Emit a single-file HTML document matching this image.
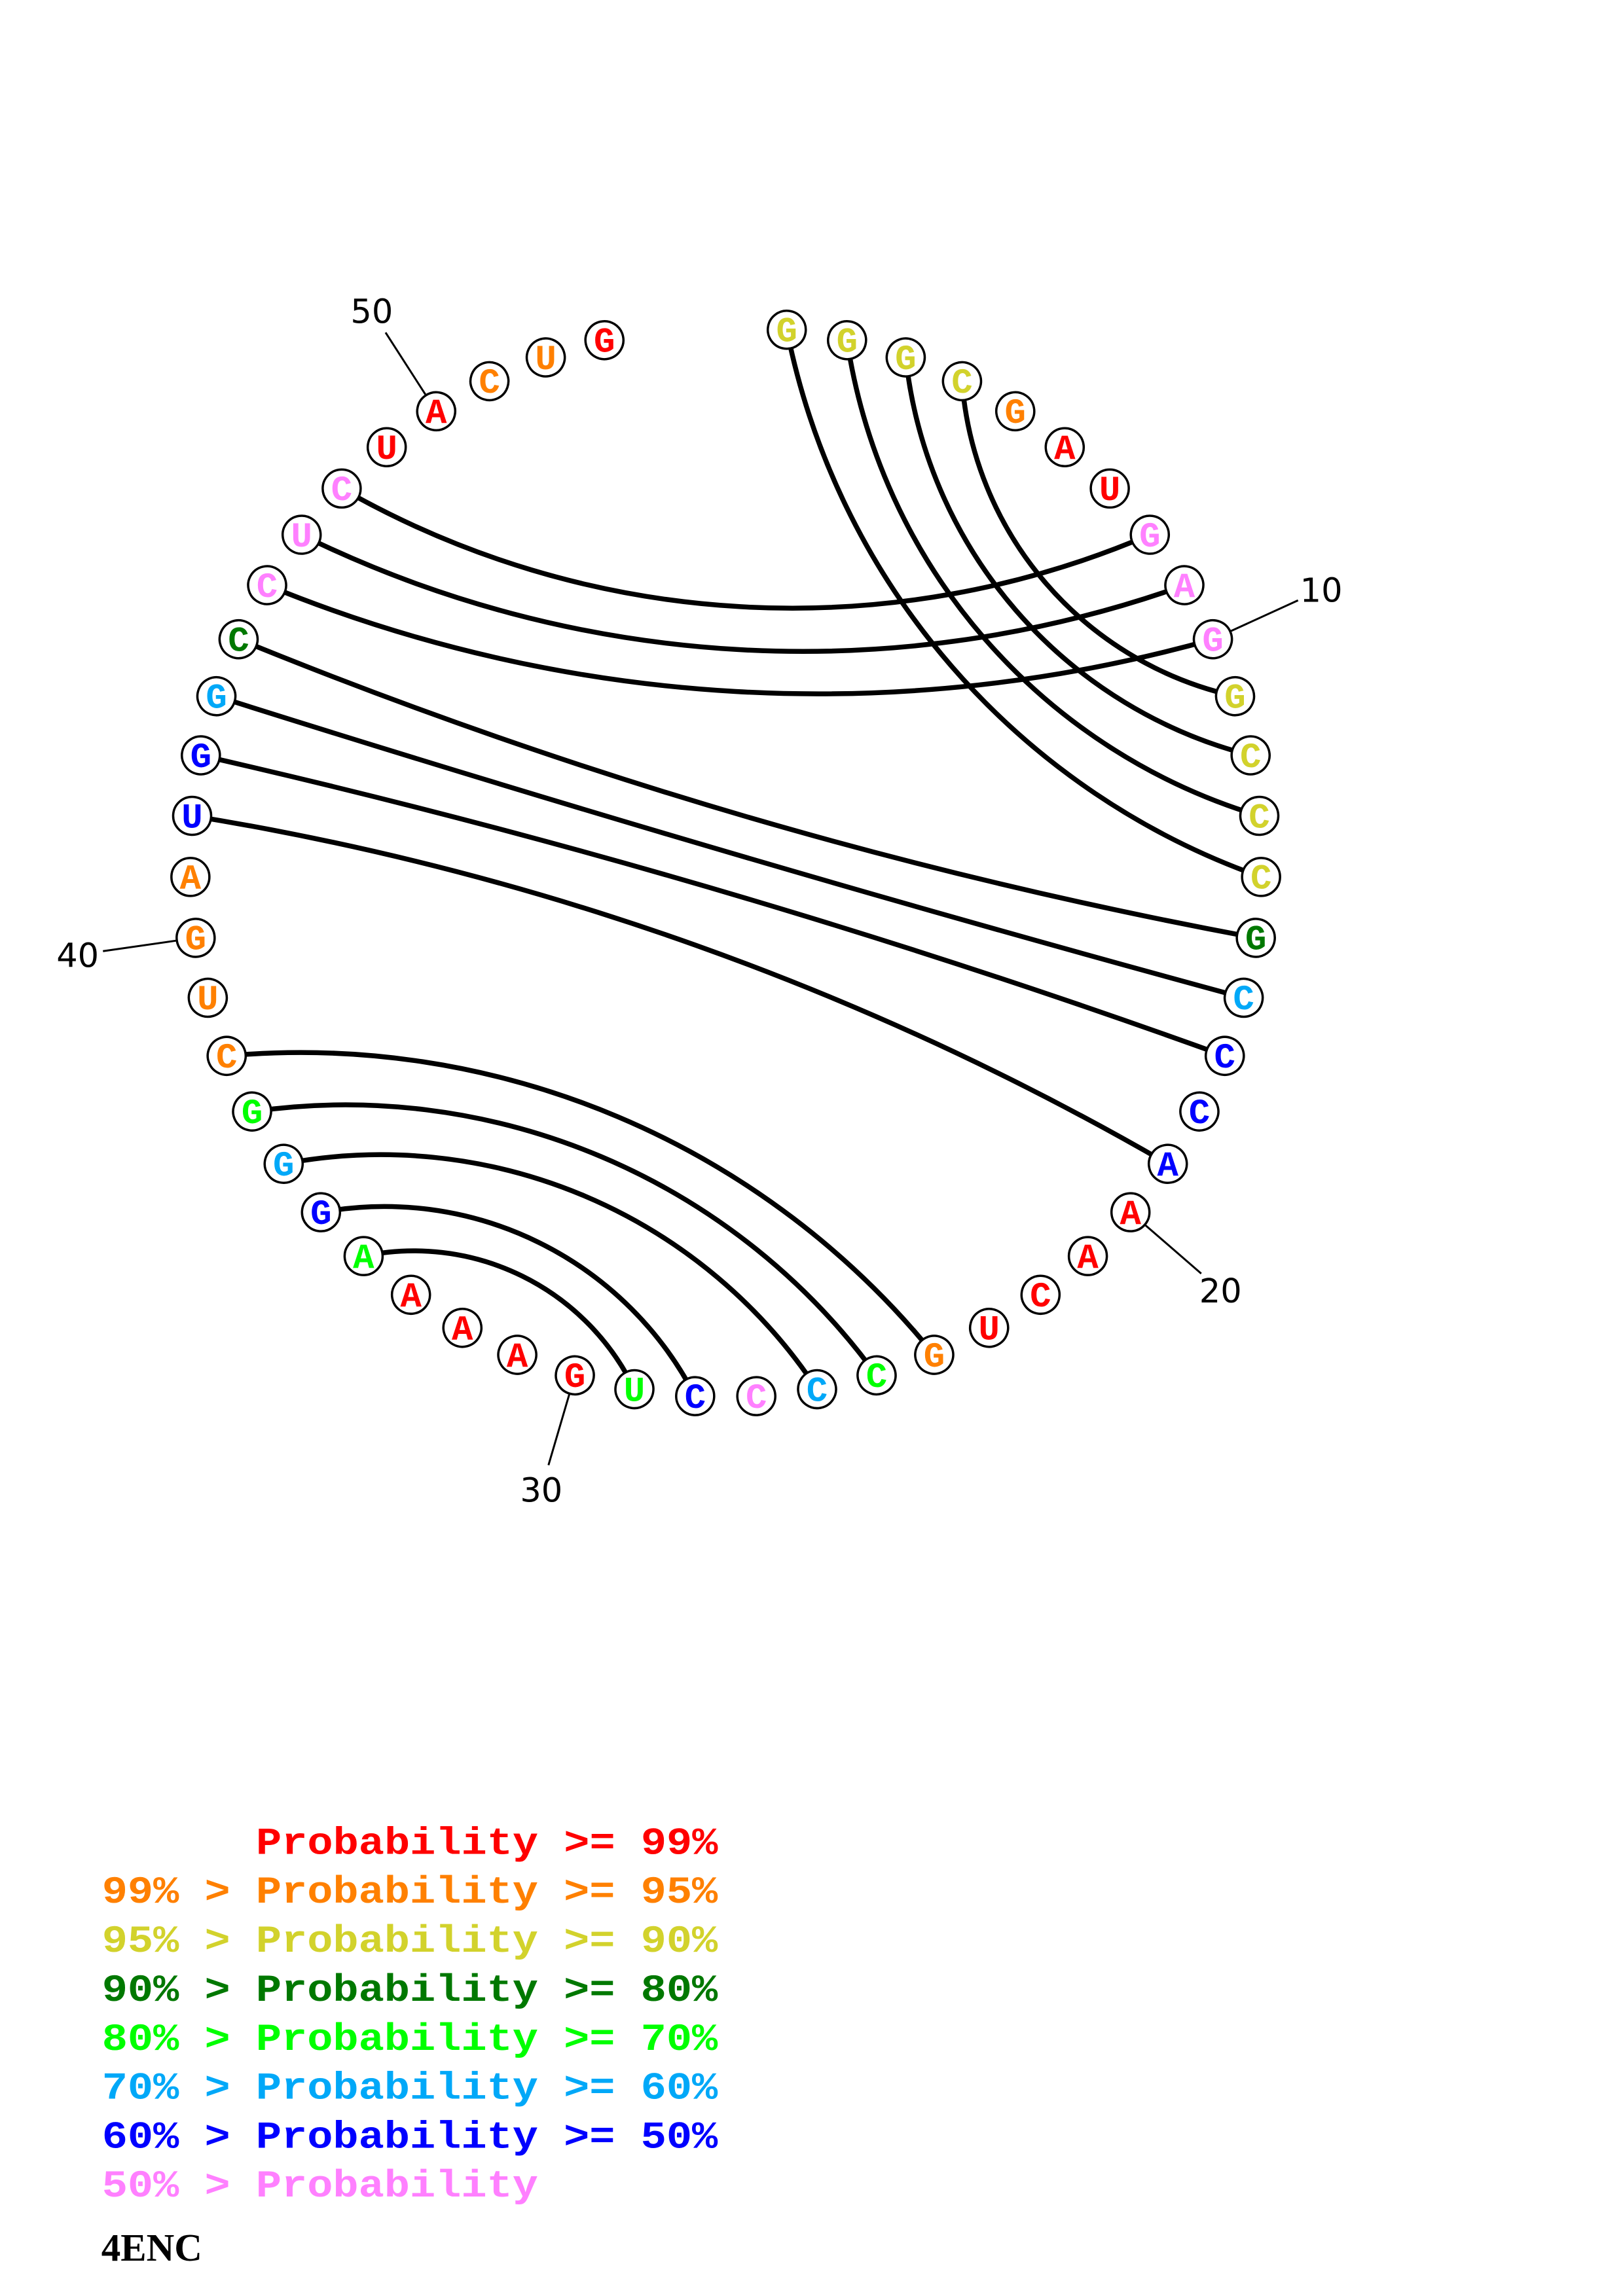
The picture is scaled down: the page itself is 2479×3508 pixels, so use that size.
<!DOCTYPE html>
<html>
<head>
<meta charset="utf-8">
<style>
html,body{margin:0;padding:0;background:#fff;}
svg{display:block;}
.arcs path{fill:none;stroke:#000;stroke-width:7.5;}
.tick line{stroke:#000;stroke-width:3;}
.nd circle{fill:#fff;stroke:#000;stroke-width:3.5;}
.nd text{font-family:"Liberation Mono","DejaVu Sans Mono",monospace;font-weight:bold;font-size:54px;text-anchor:middle;}
.lab{font-family:"DejaVu Sans","Liberation Sans",sans-serif;font-size:51px;text-anchor:middle;fill:#000;}
.leg{font-family:"Liberation Mono","DejaVu Sans Mono",monospace;font-weight:bold;font-size:65.33px;white-space:pre;}
.r{fill:#ff0000}.o{fill:#ff8000}.y{fill:#d2d22c}.d{fill:#007800}.g{fill:#00ff00}.l{fill:#00a8f8}.b{fill:#0000ff}.p{fill:#ff80ff}
</style>
</head>
<body>
<svg width="2479" height="3508" viewBox="0 0 2479 3508" xmlns="http://www.w3.org/2000/svg">
<rect x="0" y="0" width="2479" height="3508" fill="#fff"/>

<g class="arcs">
<path transform="rotate(49.0909 1108.5 1316.5)" d="M555.5,713.8 A1117,1117 0 0 0 1661.5,713.8"/>
<path transform="rotate(49.0909 1108.5 1316.5)" d="M627.7,654.7 A896.7,896.7 0 0 0 1589.3,654.7"/>
<path transform="rotate(49.0909 1108.5 1316.5)" d="M706.3,604.2 A705.4,705.4 0 0 0 1510.7,604.2"/>
<path transform="rotate(49.0909 1108.5 1316.5)" d="M790.1,563.0 A533.6,533.6 0 0 0 1426.9,563.0"/>
<path transform="rotate(3.2727 1108.5 1316.5)" d="M490.3,780.8 A1386.1,1386.1 0 0 0 1726.7,780.8"/>
<path transform="rotate(3.2727 1108.5 1316.5)" d="M433.1,855.0 A1734.5,1734.5 0 0 0 1783.9,855.0"/>
<path transform="rotate(3.2727 1108.5 1316.5)" d="M385.0,934.8 A2218.4,2218.4 0 0 0 1832.0,934.8"/>
<path transform="rotate(16.3636 1108.5 1316.5)" d="M298.8,1200.1 A7938.7,7938.7 0 0 0 1918.2,1200.1"/>
<path transform="rotate(16.3636 1108.5 1316.5)" d="M290.8,1293.15 A39851,39851 0 0 0 1926.2,1293.15"/>
<path transform="rotate(196.3636 1108.5 1316.5)" d="M293.5,1246.5 A13244,13244 0 0 0 1923.5,1246.5"/>
<path transform="rotate(199.6364 1108.5 1316.5)" d="M317.4,1108.5 A4364.2,4364.2 0 0 0 1899.6,1108.5"/>
<path transform="rotate(202.9091 1108.5 1316.5)" d="M521.9,746.4 A1244.6,1244.6 0 0 0 1695.1,746.4"/>
<path transform="rotate(202.9091 1108.5 1316.5)" d="M590.7,683.2 A1002.4,1002.4 0 0 0 1626.3,683.2"/>
<path transform="rotate(202.9091 1108.5 1316.5)" d="M666.3,628.4 A798.1,798.1 0 0 0 1550.7,628.4"/>
<path transform="rotate(206.1818 1108.5 1316.5)" d="M790.1,563.0 A533.6,533.6 0 0 0 1426.9,563.0"/>
<path transform="rotate(206.1818 1108.5 1316.5)" d="M878.0,531.6 A373.9,373.9 0 0 0 1339.0,531.6"/>
</g>

<g class="tick">
<g transform="rotate(65.4545 1108.5 1316.5)"><line x1="1108.5" y1="468.5" x2="1108.5" y2="355.5"/><text class="lab" x="1108.5" y="335" transform="rotate(-65.4545 1108.5 316.5)">10</text></g>
<g transform="rotate(130.9091 1108.5 1316.5)"><line x1="1108.5" y1="468.5" x2="1108.5" y2="355.5"/><text class="lab" x="1108.5" y="335" transform="rotate(-130.9091 1108.5 316.5)">20</text></g>
<g transform="rotate(196.3636 1108.5 1316.5)"><line x1="1108.5" y1="468.5" x2="1108.5" y2="355.5"/><text class="lab" x="1108.5" y="335" transform="rotate(-196.3636 1108.5 316.5)">30</text></g>
<g transform="rotate(261.8182 1108.5 1316.5)"><line x1="1108.5" y1="468.5" x2="1108.5" y2="355.5"/><text class="lab" x="1108.5" y="335" transform="rotate(-261.8182 1108.5 316.5)">40</text></g>
<g transform="rotate(327.2727 1108.5 1316.5)"><line x1="1108.5" y1="468.5" x2="1108.5" y2="355.5"/><text class="lab" x="1108.5" y="335" transform="rotate(-327.2727 1108.5 316.5)">50</text></g>
</g>

<g class="nd">
<g transform="rotate(6.5455 1108.5 1316.5)"><circle cx="1108.5" cy="498.5" r="29"/><text class="y" x="1108.5" y="516.3" transform="rotate(-6.5455 1108.5 498.5)">G</text></g>
<g transform="rotate(13.0909 1108.5 1316.5)"><circle cx="1108.5" cy="498.5" r="29"/><text class="y" x="1108.5" y="516.3" transform="rotate(-13.0909 1108.5 498.5)">G</text></g>
<g transform="rotate(19.6364 1108.5 1316.5)"><circle cx="1108.5" cy="498.5" r="29"/><text class="y" x="1108.5" y="516.3" transform="rotate(-19.6364 1108.5 498.5)">G</text></g>
<g transform="rotate(26.1818 1108.5 1316.5)"><circle cx="1108.5" cy="498.5" r="29"/><text class="y" x="1108.5" y="516.3" transform="rotate(-26.1818 1108.5 498.5)">C</text></g>
<g transform="rotate(32.7273 1108.5 1316.5)"><circle cx="1108.5" cy="498.5" r="29"/><text class="o" x="1108.5" y="516.3" transform="rotate(-32.7273 1108.5 498.5)">G</text></g>
<g transform="rotate(39.2727 1108.5 1316.5)"><circle cx="1108.5" cy="498.5" r="29"/><text class="r" x="1108.5" y="516.3" transform="rotate(-39.2727 1108.5 498.5)">A</text></g>
<g transform="rotate(45.8182 1108.5 1316.5)"><circle cx="1108.5" cy="498.5" r="29"/><text class="r" x="1108.5" y="516.3" transform="rotate(-45.8182 1108.5 498.5)">U</text></g>
<g transform="rotate(52.3636 1108.5 1316.5)"><circle cx="1108.5" cy="498.5" r="29"/><text class="p" x="1108.5" y="516.3" transform="rotate(-52.3636 1108.5 498.5)">G</text></g>
<g transform="rotate(58.9091 1108.5 1316.5)"><circle cx="1108.5" cy="498.5" r="29"/><text class="p" x="1108.5" y="516.3" transform="rotate(-58.9091 1108.5 498.5)">A</text></g>
<g transform="rotate(65.4545 1108.5 1316.5)"><circle cx="1108.5" cy="498.5" r="29"/><text class="p" x="1108.5" y="516.3" transform="rotate(-65.4545 1108.5 498.5)">G</text></g>
<g transform="rotate(72 1108.5 1316.5)"><circle cx="1108.5" cy="498.5" r="29"/><text class="y" x="1108.5" y="516.3" transform="rotate(-72 1108.5 498.5)">G</text></g>
<g transform="rotate(78.5455 1108.5 1316.5)"><circle cx="1108.5" cy="498.5" r="29"/><text class="y" x="1108.5" y="516.3" transform="rotate(-78.5455 1108.5 498.5)">C</text></g>
<g transform="rotate(85.0909 1108.5 1316.5)"><circle cx="1108.5" cy="498.5" r="29"/><text class="y" x="1108.5" y="516.3" transform="rotate(-85.0909 1108.5 498.5)">C</text></g>
<g transform="rotate(91.6364 1108.5 1316.5)"><circle cx="1108.5" cy="498.5" r="29"/><text class="y" x="1108.5" y="516.3" transform="rotate(-91.6364 1108.5 498.5)">C</text></g>
<g transform="rotate(98.1818 1108.5 1316.5)"><circle cx="1108.5" cy="498.5" r="29"/><text class="d" x="1108.5" y="516.3" transform="rotate(-98.1818 1108.5 498.5)">G</text></g>
<g transform="rotate(104.7273 1108.5 1316.5)"><circle cx="1108.5" cy="498.5" r="29"/><text class="l" x="1108.5" y="516.3" transform="rotate(-104.7273 1108.5 498.5)">C</text></g>
<g transform="rotate(111.2727 1108.5 1316.5)"><circle cx="1108.5" cy="498.5" r="29"/><text class="b" x="1108.5" y="516.3" transform="rotate(-111.2727 1108.5 498.5)">C</text></g>
<g transform="rotate(117.8182 1108.5 1316.5)"><circle cx="1108.5" cy="498.5" r="29"/><text class="b" x="1108.5" y="516.3" transform="rotate(-117.8182 1108.5 498.5)">C</text></g>
<g transform="rotate(124.3636 1108.5 1316.5)"><circle cx="1108.5" cy="498.5" r="29"/><text class="b" x="1108.5" y="516.3" transform="rotate(-124.3636 1108.5 498.5)">A</text></g>
<g transform="rotate(130.9091 1108.5 1316.5)"><circle cx="1108.5" cy="498.5" r="29"/><text class="r" x="1108.5" y="516.3" transform="rotate(-130.9091 1108.5 498.5)">A</text></g>
<g transform="rotate(137.4545 1108.5 1316.5)"><circle cx="1108.5" cy="498.5" r="29"/><text class="r" x="1108.5" y="516.3" transform="rotate(-137.4545 1108.5 498.5)">A</text></g>
<g transform="rotate(144 1108.5 1316.5)"><circle cx="1108.5" cy="498.5" r="29"/><text class="r" x="1108.5" y="516.3" transform="rotate(-144 1108.5 498.5)">C</text></g>
<g transform="rotate(150.5455 1108.5 1316.5)"><circle cx="1108.5" cy="498.5" r="29"/><text class="r" x="1108.5" y="516.3" transform="rotate(-150.5455 1108.5 498.5)">U</text></g>
<g transform="rotate(157.0909 1108.5 1316.5)"><circle cx="1108.5" cy="498.5" r="29"/><text class="o" x="1108.5" y="516.3" transform="rotate(-157.0909 1108.5 498.5)">G</text></g>
<g transform="rotate(163.6364 1108.5 1316.5)"><circle cx="1108.5" cy="498.5" r="29"/><text class="g" x="1108.5" y="516.3" transform="rotate(-163.6364 1108.5 498.5)">C</text></g>
<g transform="rotate(170.1818 1108.5 1316.5)"><circle cx="1108.5" cy="498.5" r="29"/><text class="l" x="1108.5" y="516.3" transform="rotate(-170.1818 1108.5 498.5)">C</text></g>
<g transform="rotate(176.7273 1108.5 1316.5)"><circle cx="1108.5" cy="498.5" r="29"/><text class="p" x="1108.5" y="516.3" transform="rotate(-176.7273 1108.5 498.5)">C</text></g>
<g transform="rotate(183.2727 1108.5 1316.5)"><circle cx="1108.5" cy="498.5" r="29"/><text class="b" x="1108.5" y="516.3" transform="rotate(-183.2727 1108.5 498.5)">C</text></g>
<g transform="rotate(189.8182 1108.5 1316.5)"><circle cx="1108.5" cy="498.5" r="29"/><text class="g" x="1108.5" y="516.3" transform="rotate(-189.8182 1108.5 498.5)">U</text></g>
<g transform="rotate(196.3636 1108.5 1316.5)"><circle cx="1108.5" cy="498.5" r="29"/><text class="r" x="1108.5" y="516.3" transform="rotate(-196.3636 1108.5 498.5)">G</text></g>
<g transform="rotate(202.9091 1108.5 1316.5)"><circle cx="1108.5" cy="498.5" r="29"/><text class="r" x="1108.5" y="516.3" transform="rotate(-202.9091 1108.5 498.5)">A</text></g>
<g transform="rotate(209.4545 1108.5 1316.5)"><circle cx="1108.5" cy="498.5" r="29"/><text class="r" x="1108.5" y="516.3" transform="rotate(-209.4545 1108.5 498.5)">A</text></g>
<g transform="rotate(216 1108.5 1316.5)"><circle cx="1108.5" cy="498.5" r="29"/><text class="r" x="1108.5" y="516.3" transform="rotate(-216 1108.5 498.5)">A</text></g>
<g transform="rotate(222.5455 1108.5 1316.5)"><circle cx="1108.5" cy="498.5" r="29"/><text class="g" x="1108.5" y="516.3" transform="rotate(-222.5455 1108.5 498.5)">A</text></g>
<g transform="rotate(229.0909 1108.5 1316.5)"><circle cx="1108.5" cy="498.5" r="29"/><text class="b" x="1108.5" y="516.3" transform="rotate(-229.0909 1108.5 498.5)">G</text></g>
<g transform="rotate(235.6364 1108.5 1316.5)"><circle cx="1108.5" cy="498.5" r="29"/><text class="l" x="1108.5" y="516.3" transform="rotate(-235.6364 1108.5 498.5)">G</text></g>
<g transform="rotate(242.1818 1108.5 1316.5)"><circle cx="1108.5" cy="498.5" r="29"/><text class="g" x="1108.5" y="516.3" transform="rotate(-242.1818 1108.5 498.5)">G</text></g>
<g transform="rotate(248.7273 1108.5 1316.5)"><circle cx="1108.5" cy="498.5" r="29"/><text class="o" x="1108.5" y="516.3" transform="rotate(-248.7273 1108.5 498.5)">C</text></g>
<g transform="rotate(255.2727 1108.5 1316.5)"><circle cx="1108.5" cy="498.5" r="29"/><text class="o" x="1108.5" y="516.3" transform="rotate(-255.2727 1108.5 498.5)">U</text></g>
<g transform="rotate(261.8182 1108.5 1316.5)"><circle cx="1108.5" cy="498.5" r="29"/><text class="o" x="1108.5" y="516.3" transform="rotate(-261.8182 1108.5 498.5)">G</text></g>
<g transform="rotate(268.3636 1108.5 1316.5)"><circle cx="1108.5" cy="498.5" r="29"/><text class="o" x="1108.5" y="516.3" transform="rotate(-268.3636 1108.5 498.5)">A</text></g>
<g transform="rotate(274.9091 1108.5 1316.5)"><circle cx="1108.5" cy="498.5" r="29"/><text class="b" x="1108.5" y="516.3" transform="rotate(-274.9091 1108.5 498.5)">U</text></g>
<g transform="rotate(281.4545 1108.5 1316.5)"><circle cx="1108.5" cy="498.5" r="29"/><text class="b" x="1108.5" y="516.3" transform="rotate(-281.4545 1108.5 498.5)">G</text></g>
<g transform="rotate(288 1108.5 1316.5)"><circle cx="1108.5" cy="498.5" r="29"/><text class="l" x="1108.5" y="516.3" transform="rotate(-288 1108.5 498.5)">G</text></g>
<g transform="rotate(294.5455 1108.5 1316.5)"><circle cx="1108.5" cy="498.5" r="29"/><text class="d" x="1108.5" y="516.3" transform="rotate(-294.5455 1108.5 498.5)">C</text></g>
<g transform="rotate(301.0909 1108.5 1316.5)"><circle cx="1108.5" cy="498.5" r="29"/><text class="p" x="1108.5" y="516.3" transform="rotate(-301.0909 1108.5 498.5)">C</text></g>
<g transform="rotate(307.6364 1108.5 1316.5)"><circle cx="1108.5" cy="498.5" r="29"/><text class="p" x="1108.5" y="516.3" transform="rotate(-307.6364 1108.5 498.5)">U</text></g>
<g transform="rotate(314.1818 1108.5 1316.5)"><circle cx="1108.5" cy="498.5" r="29"/><text class="p" x="1108.5" y="516.3" transform="rotate(-314.1818 1108.5 498.5)">C</text></g>
<g transform="rotate(320.7273 1108.5 1316.5)"><circle cx="1108.5" cy="498.5" r="29"/><text class="r" x="1108.5" y="516.3" transform="rotate(-320.7273 1108.5 498.5)">U</text></g>
<g transform="rotate(327.2727 1108.5 1316.5)"><circle cx="1108.5" cy="498.5" r="29"/><text class="r" x="1108.5" y="516.3" transform="rotate(-327.2727 1108.5 498.5)">A</text></g>
<g transform="rotate(333.8182 1108.5 1316.5)"><circle cx="1108.5" cy="498.5" r="29"/><text class="o" x="1108.5" y="516.3" transform="rotate(-333.8182 1108.5 498.5)">C</text></g>
<g transform="rotate(340.3636 1108.5 1316.5)"><circle cx="1108.5" cy="498.5" r="29"/><text class="o" x="1108.5" y="516.3" transform="rotate(-340.3636 1108.5 498.5)">U</text></g>
<g transform="rotate(346.9091 1108.5 1316.5)"><circle cx="1108.5" cy="498.5" r="29"/><text class="r" x="1108.5" y="516.3" transform="rotate(-346.9091 1108.5 498.5)">G</text></g>
</g>

<g class="leg">
<text class="r" transform="translate(391,2832.7) scale(1,0.9)">Probability &gt;= 99%</text>
<text class="o" transform="translate(155.7,2907.2) scale(1,0.9)">99% &gt; Probability &gt;= 95%</text>
<text class="y" transform="translate(155.7,2982.2) scale(1,0.9)">95% &gt; Probability &gt;= 90%</text>
<text class="d" transform="translate(155.7,3056.8) scale(1,0.9)">90% &gt; Probability &gt;= 80%</text>
<text class="g" transform="translate(155.7,3131.8) scale(1,0.9)">80% &gt; Probability &gt;= 70%</text>
<text class="l" transform="translate(155.7,3206.3) scale(1,0.9)">70% &gt; Probability &gt;= 60%</text>
<text class="b" transform="translate(155.7,3281.3) scale(1,0.9)">60% &gt; Probability &gt;= 50%</text>
<text class="p" transform="translate(155.7,3355.9) scale(1,0.9)">50% &gt; Probability</text>
</g>
<text x="154.8" y="3454" style="font-family:'Liberation Serif','DejaVu Serif',serif;font-weight:bold;font-size:59px;fill:#000;">4ENC</text>
</svg>
</body>
</html>
